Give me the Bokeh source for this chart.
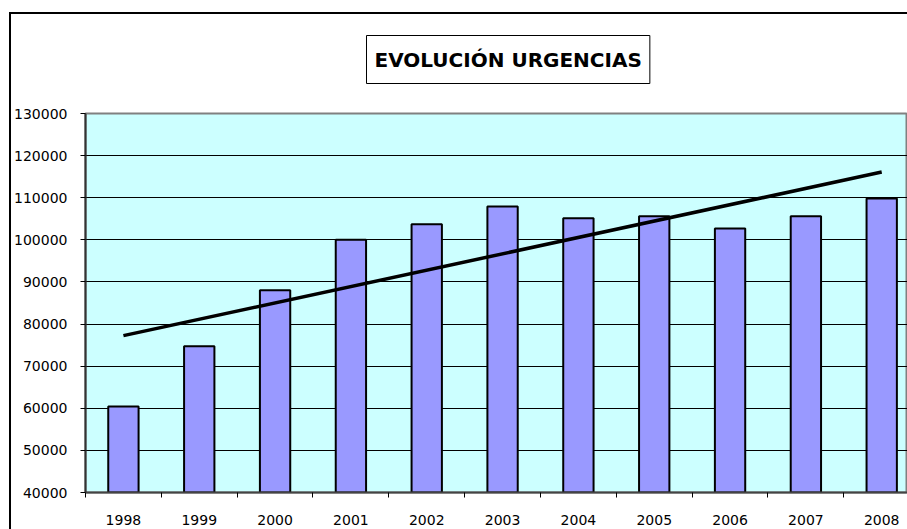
import numpy as np
from bokeh.plotting import figure
from bokeh.models import Range1d, FixedTicker, Title, ColumnDataSource
from bokeh.embed import file_html
from bokeh.resources import INLINE

# ---- data ----
years = ["1998", "1999", "2000", "2001", "2002", "2003", "2004", "2005", "2006", "2007", "2008"]
urgencias = [60400, 74700, 88000, 100000, 103700, 107900, 105100, 105600, 102700, 105600, 109800]
y_ticks = [40000, 50000, 60000, 70000, 80000, 90000, 100000, 110000, 120000, 130000]
title_text = "EVOLUCIÓN URGENCIAS"

FONT = "DejaVu Sans"

xs = list(range(len(years)))
src = ColumnDataSource(dict(x=xs, y=urgencias))

# linear trend line (least squares) computed from the bar values
slope, intercept = np.polyfit(xs, urgencias, 1)
trend_x = [xs[0], xs[-1]]
trend_y = [intercept + slope * v for v in trend_x]

title = Title(text=title_text, align="left", offset=281, standoff=60,
              text_font=FONT, text_font_style="bold", text_font_size="20px",
              text_color="black",
              border_line_color="black", border_line_width=1,
              background_fill_color="white",
              padding=dict(left=8, right=8, top=12, bottom=12))

p = figure(width=907, height=529, output_backend="svg", toolbar_location=None,
           x_range=Range1d(-0.5, 10.34), y_range=Range1d(y_ticks[0], y_ticks[-1]),
           min_border_left=85, min_border_top=113, min_border_bottom=37, min_border_right=0,
           title=title)
# outer chart frame (left and top edges) drawn behind the transparent canvas border
p.styles = {"box-shadow": "inset 9px 12px 0 0 #ffffff, inset 11px 14px 0 0 #000000",
            "background-color": "#ffffff"}

p.background_fill_color = "#CCFFFF"
p.border_fill_color = None
p.outline_line_color = "#808080"
p.outline_line_width = 2

# bars
p.vbar(x="x", top="y", bottom=y_ticks[0], width=0.4, source=src,
       fill_color="#9999FF", line_color="black", line_width=2)
# trend line
p.line(trend_x, trend_y, line_color="black", line_width=3.5)

# grid
p.xgrid.visible = False
p.ygrid.ticker = FixedTicker(ticks=y_ticks[1:-1])
p.ygrid.grid_line_color = "black"
p.ygrid.grid_line_width = 1

# y axis
p.yaxis.ticker = FixedTicker(ticks=y_ticks)
p.yaxis.formatter.use_scientific = False
p.yaxis.major_tick_in = 0
p.yaxis.major_tick_out = 5
p.yaxis.minor_tick_line_color = None
p.yaxis.major_tick_line_color = "black"
p.yaxis.axis_line_color = "#333333"
p.yaxis.axis_line_width = 2
p.yaxis.major_label_standoff = 13
p.yaxis.major_label_text_font = FONT
p.yaxis.major_label_text_font_size = "14px"
p.yaxis.major_label_text_color = "black"

# x axis: labels at category centres, tick marks at category boundaries
centres = xs
bounds = [v - 0.5 for v in xs] + [xs[-1] + 0.5]
p.xaxis.ticker = FixedTicker(ticks=centres, minor_ticks=bounds)
p.xaxis.major_label_overrides = {v: years[v] for v in xs}
p.xaxis.major_tick_in = 0
p.xaxis.major_tick_out = 0
p.xaxis.minor_tick_in = 0
p.xaxis.minor_tick_out = 5
p.xaxis.minor_tick_line_color = "black"
p.xaxis.axis_line_color = "#444444"
p.xaxis.axis_line_width = 2
p.xaxis.major_label_standoff = 17
p.xaxis.major_label_text_font = FONT
p.xaxis.major_label_text_font_size = "14px"
p.xaxis.major_label_text_color = "black"

open("out.html", "w").write(file_html(p, INLINE))
